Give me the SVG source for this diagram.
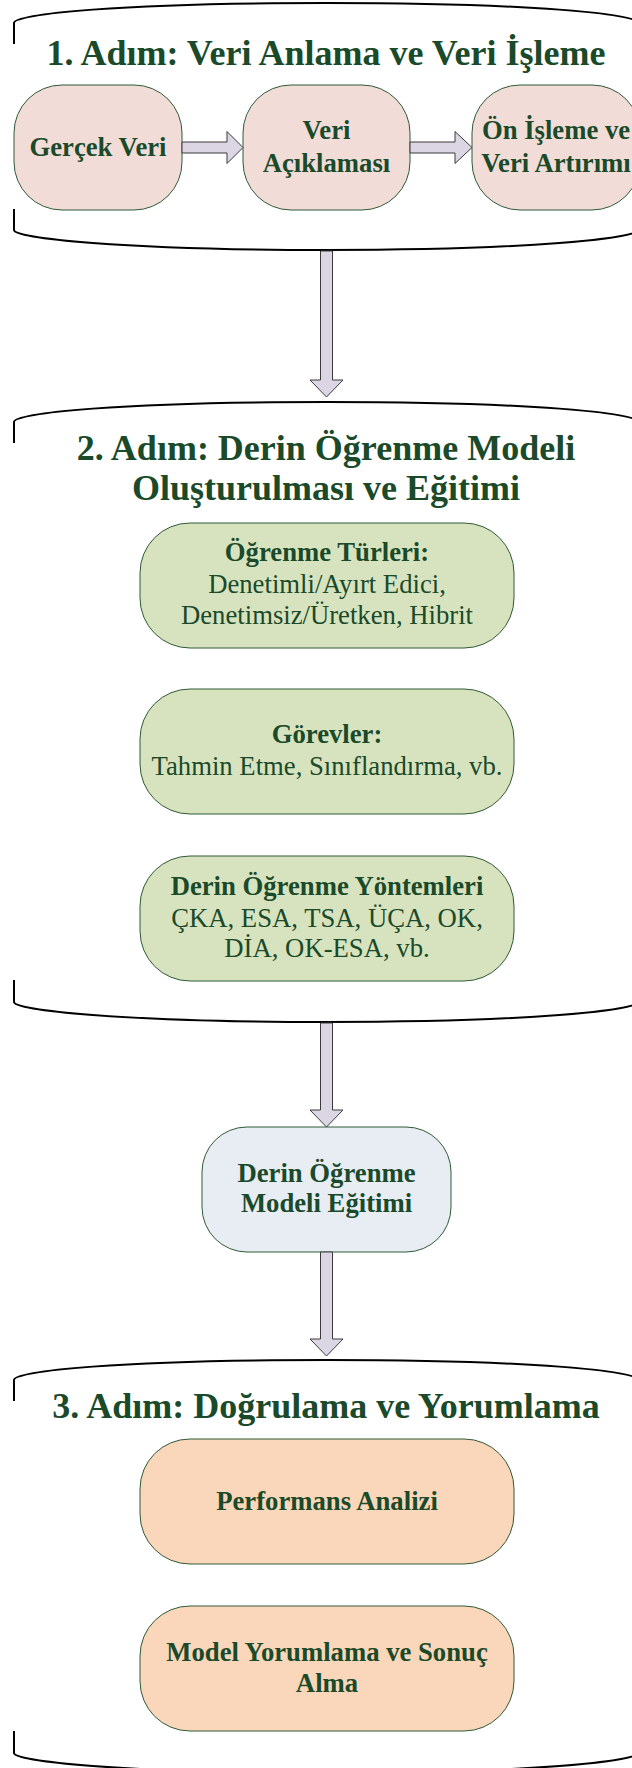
<svg xmlns="http://www.w3.org/2000/svg" width="632" height="1768" viewBox="0 0 632 1768">
  <style>
    .title { font-family: "Liberation Serif", "Times New Roman", serif; font-weight: bold; font-size: 36px; fill: #1a4a2a; text-anchor: middle; }
    .lbl { font-family: "Liberation Serif", "Times New Roman", serif; font-size: 26.7px; fill: #1a4a2a; text-anchor: middle; }
    .b { font-weight: bold; }
    .brace { fill: none; stroke: #000; stroke-width: 2; }
    .box { stroke: #2e5a36; stroke-width: 1; }
    .pink { fill: #f2dcd8; }
    .green { fill: #d7e3bf; }
    .blue { fill: #e8edf4; }
    .peach { fill: #fad7ba; }
    .arrow { fill: #dcd6e4; stroke: #3a3a3a; stroke-width: 1; stroke-linejoin: miter; }
  </style>
  <rect width="632" height="1768" fill="#fff"/>

  <!-- section 1 frame -->
  <g id="stage1">
    <path class="brace" d="M14,44 V23 C14,14 120,3 326,3 C532,3 638,14 638,23 V44"/>
    <path class="brace" d="M14,209 V230 C14,238 120,250 326,250 C532,250 638,238 638,230 V209"/>
    <text class="title" x="326" y="65">1. Adım: Veri Anlama ve Veri İşleme</text>
  </g>

  <g id="gercek-veri">
    <rect class="box pink" x="14" y="85" width="168" height="125" rx="48"/>
    <text class="lbl b" x="98" y="156">Gerçek Veri</text>
  </g>
  <g id="veri-aciklamasi">
    <rect class="box pink" x="243" y="85" width="167" height="125" rx="48"/>
    <text class="lbl b" x="326.5" y="139">Veri</text>
    <text class="lbl b" x="326.5" y="172">Açıklaması</text>
  </g>
  <g id="on-isleme">
    <rect class="box pink" x="472" y="85" width="168" height="125" rx="48"/>
    <text class="lbl b" x="556" y="139">Ön İşleme ve</text>
    <text class="lbl b" x="556" y="172">Veri Artırımı</text>
  </g>

  <!-- section 2 frame -->
  <g id="stage2">
    <path class="brace" d="M14,443 V422 C14,413 120,402 326,402 C532,402 638,413 638,422 V443"/>
    <path class="brace" d="M14,980 V1002 C14,1010 120,1022 326,1022 C532,1022 638,1010 638,1002 V980"/>
    <text class="title" x="326" y="460">2. Adım: Derin Öğrenme Modeli</text>
    <text class="title" x="326" y="500">Oluşturulması ve Eğitimi</text>
  </g>

  <g id="ogrenme-turleri">
    <rect class="box green" x="140" y="523" width="374" height="125" rx="50"/>
    <text class="lbl b" x="327" y="561">Öğrenme Türleri:</text>
    <text class="lbl" x="327" y="593">Denetimli/Ayırt Edici,</text>
    <text class="lbl" x="327" y="624">Denetimsiz/Üretken, Hibrit</text>
  </g>
  <g id="gorevler">
    <rect class="box green" x="140" y="689" width="374" height="125" rx="50"/>
    <text class="lbl b" x="327" y="743">Görevler:</text>
    <text class="lbl" x="327" y="775">Tahmin Etme, Sınıflandırma, vb.</text>
  </g>
  <g id="yontemler">
    <rect class="box green" x="140" y="856" width="374" height="125" rx="50"/>
    <text class="lbl b" x="327" y="895">Derin Öğrenme Yöntemleri</text>
    <text class="lbl" x="327" y="927">ÇKA, ESA, TSA, ÜÇA, OK,</text>
    <text class="lbl" x="327" y="957">DİA, OK-ESA, vb.</text>
  </g>

  <g id="model-egitimi">
    <rect class="box blue" x="202" y="1127" width="249" height="125" rx="45"/>
    <text class="lbl b" x="326.5" y="1182">Derin Öğrenme</text>
    <text class="lbl b" x="326.5" y="1212">Modeli Eğitimi</text>
  </g>

  <!-- section 3 frame -->
  <g id="stage3">
    <path class="brace" d="M14,1401 V1380 C14,1371 120,1360 326,1360 C532,1360 638,1371 638,1380 V1401"/>
    <path class="brace" d="M14,1731 V1753 C14,1761 120,1773 326,1773 C532,1773 638,1761 638,1753 V1731"/>
    <text class="title" x="326" y="1418">3. Adım: Doğrulama ve Yorumlama</text>
  </g>

  <g id="performans">
    <rect class="box peach" x="140" y="1439" width="374" height="125" rx="50"/>
    <text class="lbl b" x="327" y="1510">Performans Analizi</text>
  </g>
  <g id="yorumlama">
    <rect class="box peach" x="140" y="1606" width="374" height="125" rx="50"/>
    <text class="lbl b" x="327" y="1661">Model Yorumlama ve Sonuç</text>
    <text class="lbl b" x="327" y="1692">Alma</text>
  </g>

  <!-- block arrows -->
  <g id="connectors">
    <polygon class="arrow" points="182,142 227,142 227,131.5 243,147.5 227,163.5 227,153 182,153"/>
    <polygon class="arrow" points="410,142 455,142 455,131.5 472,147.5 455,163.5 455,153 410,153"/>
    <polygon class="arrow" points="320.5,251 332.5,251 332.5,380 343,380 326.5,397 310,380 320.5,380"/>
    <polygon class="arrow" points="320.5,1023 332.5,1023 332.5,1110 343,1110 326.5,1127 310,1110 320.5,1110"/>
    <polygon class="arrow" points="320.5,1252 332.5,1252 332.5,1339 343,1339 326.5,1356 310,1339 320.5,1339"/>
  </g>
</svg>
